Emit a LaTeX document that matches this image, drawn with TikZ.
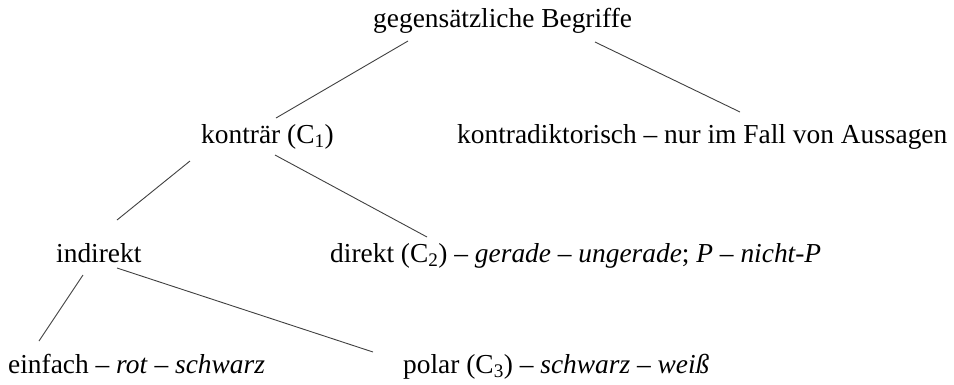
\documentclass[tikz,border=0pt]{standalone}
\usepackage{fontspec}
\setmainfont{Liberation Serif}
\begin{document}
\begin{tikzpicture}[x=1pt,y=-1pt,
  begriff/.style={anchor=base west,inner sep=0pt,font=\fontsize{27.4}{33}\selectfont},
  ast/.style={line width=0.9pt,black!75}]
\useasboundingbox (0,0) rectangle (954,384);

% Oberbegriff
\node[begriff] (gegen) at (373,27) {gegensätzliche Begriffe};

% zweite Ebene
\node[begriff] (kontraer) at (201,143) {konträr (C\textsubscript{1})};
\node[begriff] (kontradikt) at (457,143) {kontradiktorisch -- nur im Fall von Aussagen};

% dritte Ebene
\node[begriff] (indirekt) at (56,262) {indirekt};
\node[begriff] (direkt) at (330,262) {direkt (C\textsubscript{2}) -- \textit{gerade} -- \textit{ungerade}; \textit{P} -- \textit{nicht-P}};

% vierte Ebene
\node[begriff] (einfach) at (8,373) {einfach -- \textit{rot} -- \textit{schwarz}};
\node[begriff] (polar) at (403,373) {polar (C\textsubscript{3}) -- \textit{schwarz} -- \textit{weiß}};

% Drawing branches
\draw[ast] ([shift={(35,14)}]gegen.base west) -- ([shift={(75,-25)}]kontraer.base west);
\draw[ast] ([shift={(222,15)}]gegen.base west) -- ([shift={(283,-31)}]kontradikt.base west);
\draw[ast] ([shift={(-11,18)}]kontraer.base west) -- ([shift={(61,-42)}]indirekt.base west);
\draw[ast] ([shift={(74,12)}]kontraer.base west) -- ([shift={(97,-25)}]direkt.base west);
\draw[ast] ([shift={(27,13)}]indirekt.base west) -- ([shift={(31,-32)}]einfach.base west);
\draw[ast] ([shift={(61,6)}]indirekt.base west) -- ([shift={(-30,-21)}]polar.base west);
\end{tikzpicture}
\end{document}
